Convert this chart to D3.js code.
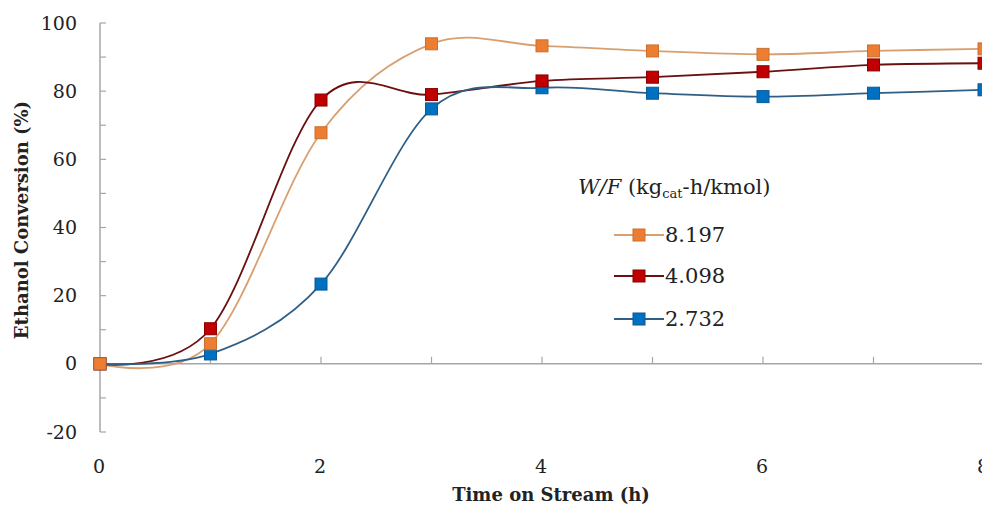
<!DOCTYPE html>
<html>
<head>
<meta charset="utf-8">
<script src="https://cdn.jsdelivr.net/npm/d3@7/dist/d3.min.js"></script>
<style>
  html, body { margin: 0; padding: 0; background: #fff; }
  svg { display: block; }
</style>
</head>
<body>
<svg id="chart" width="982" height="507"></svg>
<script>
// Time on stream (h)
const hours = [0, 1, 2, 3, 4, 5, 6, 7, 8];

// Ethanol conversion (%) for each W/F value
const conv8197 = [0, 5.9, 67.8, 93.9, 93.3, 91.8, 90.8, 91.8, 92.4];
const conv4098 = [0, 10.3, 77.4, 79.0, 83.0, 84.1, 85.7, 87.7, 88.2];
const conv2732 = [0, 2.9, 23.4, 74.8, 81.0, 79.4, 78.4, 79.4, 80.4];

const seriesNames = ["8.197", "4.098", "2.732"];
const seriesValues = [conv8197, conv4098, conv2732];

const yTicks = [-20, 0, 20, 40, 60, 80, 100];
const xTicks = [0, 2, 4, 6, 8];

const markerFill = ["#ED7D31", "#C00000", "#0070C0"];
const markerEdge = ["#c9702f", "#8a0000", "#0a5a96"];
const lineColor = ["#d8a070", "#6a1010", "#2f5f86"];

const svg = d3.select("#chart");
const serif = "DejaVu Serif, serif";

const x = d3.scaleLinear().domain([0, 8]).range([100, 984]);
const y = d3.scaleLinear().domain([-20, 100]).range([432, 23]);

const axisColor = "#a6a6a6";

// Y axis: line with inward tick marks every 10
const yAxis = svg.append("g");
yAxis.append("line")
  .attr("x1", x(0)).attr("x2", x(0))
  .attr("y1", y(-20)).attr("y2", y(100))
  .attr("stroke", axisColor).attr("stroke-width", 1.5);
yAxis.selectAll("line.tk")
  .data(d3.range(-20, 101, 10))
  .join("line")
  .attr("class", "tk")
  .attr("x1", x(0)).attr("x2", x(0) + 6)
  .attr("y1", d => y(d)).attr("y2", d => y(d))
  .attr("stroke", axisColor).attr("stroke-width", 1.2);
yAxis.selectAll("text")
  .data(yTicks)
  .join("text")
  .attr("x", 77)
  .attr("y", d => y(d))
  .attr("dy", "0.35em")
  .attr("text-anchor", "end")
  .attr("font-family", serif)
  .attr("font-size", 19)
  .attr("fill", "#222")
  .text(d => d);

// X axis drawn through y = 0, labels placed at the bottom
const xAxis = svg.append("g");
xAxis.append("line")
  .attr("x1", x(0)).attr("x2", 982)
  .attr("y1", y(0)).attr("y2", y(0))
  .attr("stroke", axisColor).attr("stroke-width", 1.5);
xAxis.selectAll("line.tk")
  .data(hours.filter(h => h > 0))
  .join("line")
  .attr("class", "tk")
  .attr("x1", d => x(d)).attr("x2", d => x(d))
  .attr("y1", y(0)).attr("y2", y(0) - 7)
  .attr("stroke", axisColor).attr("stroke-width", 1.2);
xAxis.selectAll("text")
  .data(xTicks)
  .join("text")
  .attr("x", d => x(d) - 1)
  .attr("y", 466)
  .attr("dy", "0.35em")
  .attr("text-anchor", "middle")
  .attr("font-family", serif)
  .attr("font-size", 19)
  .attr("fill", "#222")
  .text(d => d);

// Axis titles
svg.append("text")
  .attr("x", 551).attr("y", 501)
  .attr("text-anchor", "middle")
  .attr("font-family", serif)
  .attr("font-weight", "bold")
  .attr("font-size", 18)
  .attr("fill", "#222")
  .text("Time on Stream (h)");

svg.append("text")
  .attr("transform", "translate(28,220) rotate(-90)")
  .attr("text-anchor", "middle")
  .attr("font-family", serif)
  .attr("font-weight", "bold")
  .attr("font-size", 18)
  .attr("fill", "#222")
  .text("Ethanol Conversion (%)");

// Smoothed series lines and square markers
const line = d3.line()
  .x((d, i) => x(hours[i]))
  .y(d => y(d))
  .curve(d3.curveCardinal.tension(0));

const plot = svg.append("g");
seriesValues.forEach((vals, k) => {
  plot.append("path")
    .attr("d", line(vals))
    .attr("fill", "none")
    .attr("stroke", lineColor[k])
    .attr("stroke-width", 1.8);
});
seriesValues.slice().reverse().forEach((vals, rk) => {
  const k = seriesValues.length - 1 - rk;
  plot.selectAll(null)
    .data(vals)
    .join("rect")
    .attr("x", (d, i) => x(hours[i]) - 6)
    .attr("y", d => y(d) - 6)
    .attr("width", 12).attr("height", 12)
    .attr("fill", markerFill[k])
    .attr("stroke", markerEdge[k])
    .attr("stroke-width", 1);
});

// Legend
const legend = svg.append("g");
const title = legend.append("text")
  .attr("x", 578).attr("y", 194)
  .attr("font-family", serif)
  .attr("font-size", 21)
  .attr("fill", "#222");
title.append("tspan").attr("font-style", "italic").text("W/F");
title.append("tspan").text(" (kg");
title.append("tspan").attr("font-size", 13).attr("dy", 4).text("cat");
title.append("tspan").attr("dy", -4).text("-h/kmol)");

const legendY = [235, 276, 319];
seriesNames.forEach((name, k) => {
  const g = legend.append("g").attr("transform", `translate(0,${legendY[k]})`);
  g.append("line")
    .attr("x1", 614).attr("x2", 664)
    .attr("y1", 0).attr("y2", 0)
    .attr("stroke", lineColor[k]).attr("stroke-width", 1.8);
  g.append("rect")
    .attr("x", 633).attr("y", -6)
    .attr("width", 12).attr("height", 12)
    .attr("fill", markerFill[k])
    .attr("stroke", markerEdge[k])
    .attr("stroke-width", 1);
  g.append("text")
    .attr("x", 665).attr("y", 0)
    .attr("dy", "0.35em")
    .attr("font-family", serif)
    .attr("font-size", 21)
    .attr("fill", "#222")
    .text(name);
});
</script>
</body>
</html>
